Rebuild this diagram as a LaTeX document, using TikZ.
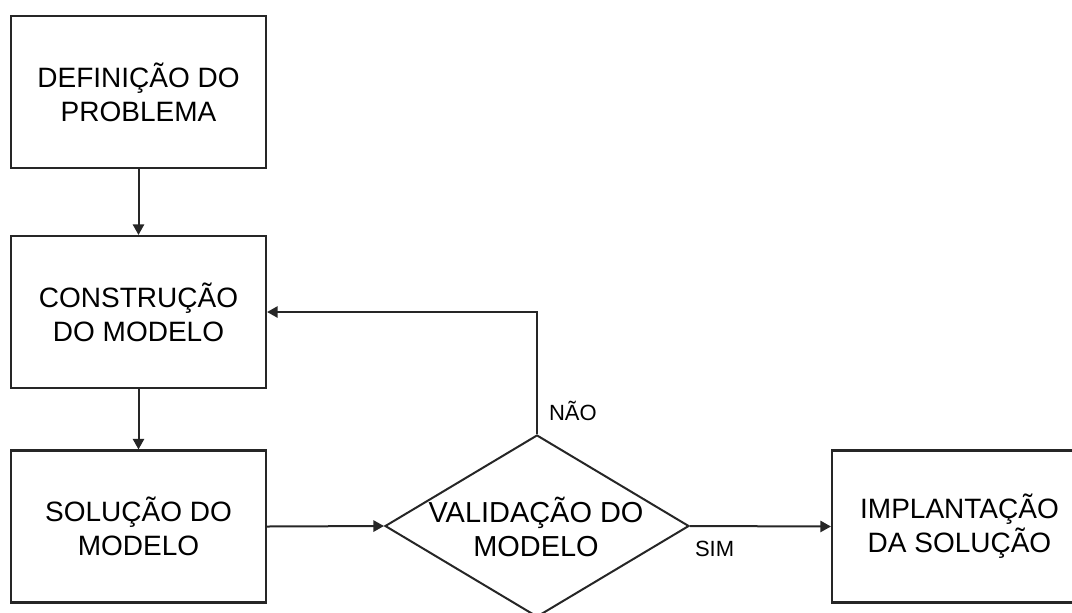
\documentclass[tikz,border=0pt]{standalone}
\usepackage{fontspec}
\setmainfont{Liberation Sans}
\usetikzlibrary{shapes.geometric,arrows.meta}
\begin{document}
\begin{tikzpicture}[x=0.75pt,y=-0.75pt,
  box/.style={draw=black!85, line width=1.6pt, minimum width=191.25pt, minimum height=114pt,
    inner sep=0pt, align=center, font=\fontsize{21}{25.5}\selectfont},
  decision/.style={draw=black!85, line width=1.5pt, shape=diamond, inner sep=0pt,
    minimum width=228pt, minimum height=136.5pt},
  dtext/.style={inner sep=0pt, align=center, font=\fontsize{21.7}{26}\selectfont},
  flow/.style={draw=black!85, line width=1.5pt, -{Triangle[length=8pt,width=8.5pt]}},
  lbl/.style={inner sep=0pt, font=\fontsize{16.5}{20}\selectfont}]
\useasboundingbox (0,0) rectangle (1072,612);
\clip (0,0) rectangle (1072,612);

\node[box] (b1) at (138.5,92) {DEFINIÇÃO DO\\PROBLEMA};
\node[box] (b2) at (138.5,312) {CONSTRUÇÃO\\DO MODELO};
\node[box] (b3) at (138.5,526.5) {SOLUÇÃO DO\\MODELO};
\node[decision] (d) at (537,526) {};
\node[dtext] (dt) at (536,527) {VALIDAÇÃO DO\\MODELO};
\node[box] (b4) at (959.5,526.5) {IMPLANTAÇÃO\\DA SOLUÇÃO};

\draw[flow] (b1.south) -- (b2.north);
\draw[flow] (b2.south) -- (b3.north);
\draw[flow] (b3.east) -- (d.west);
\draw[flow] (d.east) -- node[lbl, pos=0, anchor=north west, xshift=3pt, yshift=-10.5pt] (sim) {SIM} (b4.west);
\draw[flow] (d.north) -- node[lbl, pos=0, anchor=south west, xshift=8.25pt, yshift=9pt] (nao) {NÃO} ++(0,0) |- (b2.east);
\end{tikzpicture}
\end{document}
